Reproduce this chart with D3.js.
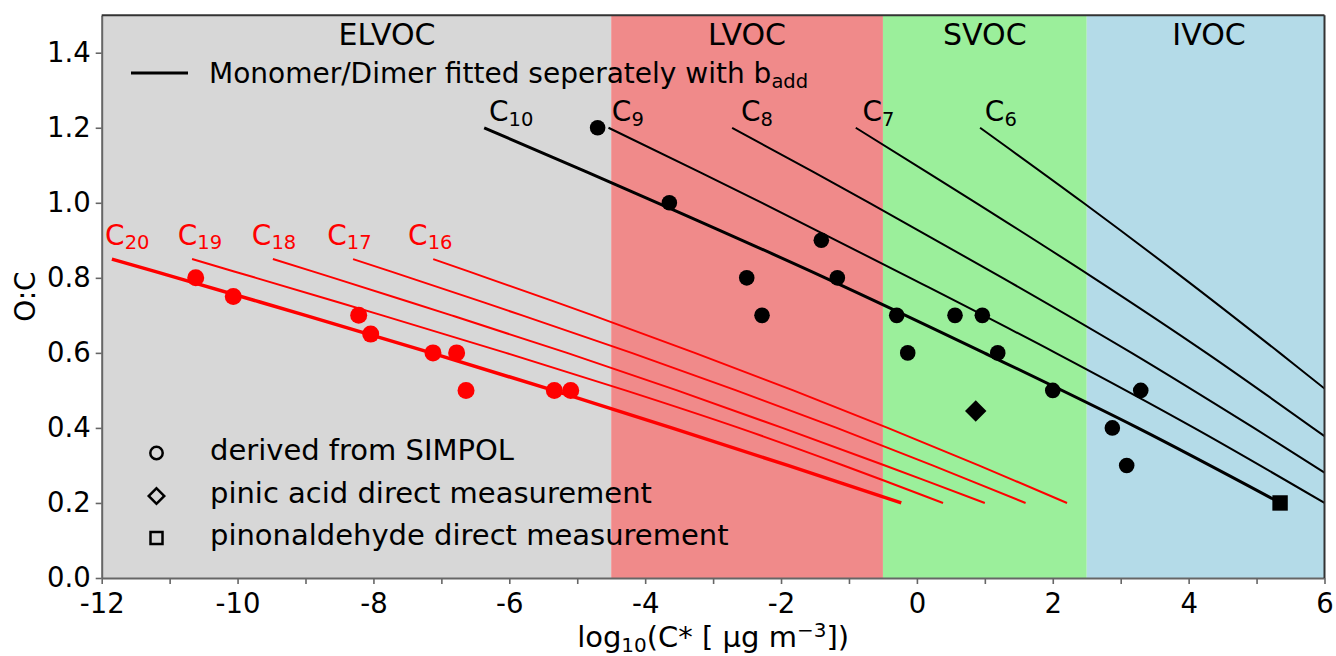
<!DOCTYPE html>
<html>
<head>
<meta charset="utf-8">
<script src="https://cdn.jsdelivr.net/npm/d3@7"></script>
<style>
  body { margin: 0; background: #fff; }
  svg text { font-family: "DejaVu Sans", sans-serif; }
</style>
</head>
<body>
<svg id="chart" width="1336" height="656"></svg>
<script>
// volatility classes
const regionNames = ["ELVOC", "LVOC", "SVOC", "IVOC"];
const regionBounds = [-12, -4.5, -0.5, 2.5, 6];
const regionColors = ["#d7d7d7", "#f08a8a", "#9bef9b", "#b4dbe8"];
const regionLabelX = [-7.8, -2.5, 1.0, 4.3];

// monomer lines (black)
const monoCarbons = [10, 9, 8, 7, 6];
const monoOC = [
  [1.2, 1.0, 0.8, 0.6, 0.4, 0.2],
  [1.2, 1.0, 0.8, 0.6, 0.4, 0.2],
  [1.2, 1.0, 0.8, 0.6, 0.4, 0.281],
  [1.2, 1.0, 0.8, 0.6, 0.378],
  [1.2, 1.0, 0.8, 0.6, 0.505]
];
const monoLogC = [
  [-6.37, -3.82, -1.35, 0.99, 3.25, 5.35],
  [-4.54, -2.28, -0.10, 2.04, 4.08, 6.0],
  [-2.72, -0.70, 1.26, 3.16, 4.96, 6.0],
  [-0.90, 0.87, 2.60, 4.26, 6.0],
  [0.93, 2.45, 3.92, 5.34, 6.0]
];
const monoLabelX = [-6.3, -4.49, -2.59, -0.8, 1.0];
const monoLabelY = 1.217;

// dimer lines (red)
const dimerCarbons = [20, 19, 18, 17, 16];
const dimerOC = [0.85, 0.8, 0.7, 0.6, 0.5, 0.4, 0.3, 0.2];
const dimerLogC = [
  [-11.85, -10.89, -9.00, -7.15, -5.35, -3.61, -1.90, -0.23],
  [-10.67, -9.73, -7.87, -6.05, -4.29, -2.62, -1.08, 0.385],
  [-9.48, -8.59, -6.85, -5.15, -3.53, -1.98, -0.47, 1.0],
  [-8.30, -7.46, -5.81, -4.20, -2.66, -1.18, 0.23, 1.6],
  [-7.12, -6.33, -4.77, -3.27, -1.82, -0.43, 0.91, 2.21]
];
const dimerLabelX = [-11.95, -10.88, -9.79, -8.68, -7.49];
const dimerLabelY = 0.888;

// SIMPOL points
const monoPtX = [-4.70, -3.644, -1.407, -2.505, -1.171, -2.28, -0.297, 0.561, 0.963, -0.135, 1.19, 2.0, 3.295, 2.877, 3.088];
const monoPtY = [1.2, 1.0, 0.9, 0.8, 0.8, 0.7, 0.7, 0.7, 0.7, 0.6, 0.6, 0.5, 0.5, 0.4, 0.3];
const dimerPtX = [-10.616, -10.063, -8.217, -8.04, -7.123, -6.775, -6.637, -5.337, -5.096];
const dimerPtY = [0.8, 0.75, 0.7, 0.65, 0.6, 0.6, 0.5, 0.5, 0.5];

// direct measurements
const pinicAcid = [0.866, 0.445];
const pinonaldehyde = [5.346, 0.2];

const xTicks = d3.range(-12, 7, 1);
const yTicks = [0, 0.2, 0.4, 0.6, 0.8, 1.0, 1.2, 1.4];

const legendLabels = ["derived from SIMPOL", "pinic acid direct measurement", "pinonaldehyde direct measurement"];

const svg = d3.select("#chart");
const margin = { top: 15.2, right: 11.5, bottom: 78, left: 101.7 };
const width = 1336 - margin.left - margin.right;
const height = 656 - margin.top - margin.bottom;

const x = d3.scaleLinear().domain([-12, 6]).range([0, width]);
const y = d3.scaleLinear().domain([0, 1.5]).range([height, 0]);

const chart = svg.append("g").attr("transform", `translate(${margin.left},${margin.top})`);

svg.append("defs").append("clipPath").attr("id", "clip")
  .append("rect").attr("width", width).attr("height", height);

// background spans
chart.selectAll(".span")
  .data(regionNames)
  .join("rect")
  .attr("x", (d, i) => x(regionBounds[i]))
  .attr("width", (d, i) => x(regionBounds[i + 1]) - x(regionBounds[i]))
  .attr("y", 0)
  .attr("height", height)
  .style("fill", (d, i) => regionColors[i]);

chart.selectAll(".region-label")
  .data(regionNames)
  .join("text")
  .attr("x", (d, i) => x(regionLabelX[i]))
  .attr("y", 30)
  .attr("text-anchor", "middle")
  .style("font-size", "30px")
  .text(d => d);

const plot = chart.append("g").attr("clip-path", "url(#clip)");
const line = d3.line().x(d => x(d[0])).y(d => y(d[1])).curve(d3.curveCatmullRom);

// dimer lines
dimerLogC.forEach((xs, i) => {
  plot.append("path")
    .datum(xs.map((v, j) => [v, dimerOC[j]]))
    .attr("d", line)
    .style("fill", "none")
    .style("stroke", "#ff0000")
    .style("stroke-width", i === 0 ? 3.5 : 2);
});

// monomer lines
monoLogC.forEach((xs, i) => {
  plot.append("path")
    .datum(xs.map((v, j) => [v, monoOC[i][j]]))
    .attr("d", line)
    .style("fill", "none")
    .style("stroke", "#000")
    .style("stroke-width", i === 0 ? 3 : 2);
});

// points
plot.selectAll(".dimer-pt")
  .data(dimerPtX)
  .join("circle")
  .attr("cx", d => x(d))
  .attr("cy", (d, i) => y(dimerPtY[i]))
  .attr("r", 8.5)
  .style("fill", "#ff0000");

plot.selectAll(".mono-pt")
  .data(monoPtX)
  .join("circle")
  .attr("cx", d => x(d))
  .attr("cy", (d, i) => y(monoPtY[i]))
  .attr("r", 7.8)
  .style("fill", "#000");

plot.append("path")
  .attr("d", d3.symbol(d3.symbolSquare, 230)())
  .attr("transform", `translate(${x(pinicAcid[0])},${y(pinicAcid[1])}) rotate(45)`)
  .style("fill", "#000");

plot.append("rect")
  .attr("x", x(pinonaldehyde[0]) - 7.7)
  .attr("y", y(pinonaldehyde[1]) - 7.7)
  .attr("width", 15.4)
  .attr("height", 15.4)
  .style("fill", "#000");

// carbon number labels
function carbonLabel(n, px, py, color) {
  const t = chart.append("text")
    .attr("x", px)
    .attr("y", py)
    .style("font-size", "28px")
    .style("fill", color);
  t.append("tspan").text("C");
  t.append("tspan").attr("dy", 4.5).style("font-size", "19.5px").text(n);
}
monoCarbons.forEach((n, i) => carbonLabel(n, x(monoLabelX[i]), y(monoLabelY), "#000"));
dimerCarbons.forEach((n, i) => carbonLabel(n, x(dimerLabelX[i]), y(dimerLabelY), "#ff0000"));

// axes
const xAxis = chart.append("g")
  .attr("transform", `translate(0,${height})`)
  .call(d3.axisBottom(x).tickValues(xTicks).tickFormat(d => d % 2 === 0 ? String(d) : "").tickSize(6).tickPadding(9).tickSizeOuter(0));
const yAxis = chart.append("g")
  .call(d3.axisLeft(y).tickValues(yTicks).tickFormat(d3.format(".1f")).tickSize(6).tickPadding(5).tickSizeOuter(0));

[xAxis, yAxis].forEach(a => {
  a.selectAll("text").style("font-size", "27.5px").style("fill", "#000").style("font-family", "DejaVu Sans, sans-serif");
  a.selectAll("line").style("stroke", "#666").style("stroke-width", 1.6);
  a.select(".domain").style("stroke", "#666").style("stroke-width", 2);
});

// top and right spines
chart.append("line").attr("x1", 0).attr("x2", width).attr("y1", 0).attr("y2", 0)
  .style("stroke", "#333").style("stroke-width", 2);
chart.append("line").attr("x1", width).attr("x2", width).attr("y1", 0).attr("y2", height)
  .style("stroke", "#333").style("stroke-width", 2);

// axis labels
const xl = svg.append("text")
  .attr("x", margin.left + width / 2)
  .attr("y", 647)
  .attr("text-anchor", "middle")
  .style("font-size", "29px");
xl.append("tspan").text("log");
xl.append("tspan").attr("dy", 5).style("font-size", "20px").text("10");
xl.append("tspan").attr("dy", -5).text("(C* [ μg m");
xl.append("tspan").attr("dy", -10).style("font-size", "20px").text("−3");
xl.append("tspan").attr("dy", 10).text("])");

svg.append("text")
  .attr("transform", `translate(35,${margin.top + height / 2}) rotate(-90)`)
  .attr("text-anchor", "middle")
  .style("font-size", "28px")
  .text("O:C");

// legend: fitted line
const leg = svg.append("g");
leg.append("line")
  .attr("x1", 131).attr("x2", 188).attr("y1", 73).attr("y2", 73)
  .style("stroke", "#000").style("stroke-width", 3);
const lt = leg.append("text").attr("x", 209).attr("y", 83).style("font-size", "28px");
lt.append("tspan").text("Monomer/Dimer fitted seperately with b");
lt.append("tspan").attr("dy", 5).style("font-size", "19.5px").text("add");

// legend: marker types
const legY = [453, 496, 538];
const mk = svg.append("g").style("fill", "none").style("stroke", "#000").style("stroke-width", 2.5);
mk.append("circle").attr("cx", 156.5).attr("cy", legY[0]).attr("r", 6.2);
mk.append("path")
  .attr("d", d3.symbol(d3.symbolSquare, 120)())
  .attr("transform", `translate(156.5,${legY[1]}) rotate(45)`);
mk.append("rect").attr("x", 150.5).attr("y", legY[2] - 6).attr("width", 12).attr("height", 12);

svg.selectAll(".leg-text")
  .data(legendLabels)
  .join("text")
  .attr("x", 210)
  .attr("y", (d, i) => legY[i] + 7)
  .style("font-size", "29px")
  .text(d => d);
</script>
</body>
</html>
